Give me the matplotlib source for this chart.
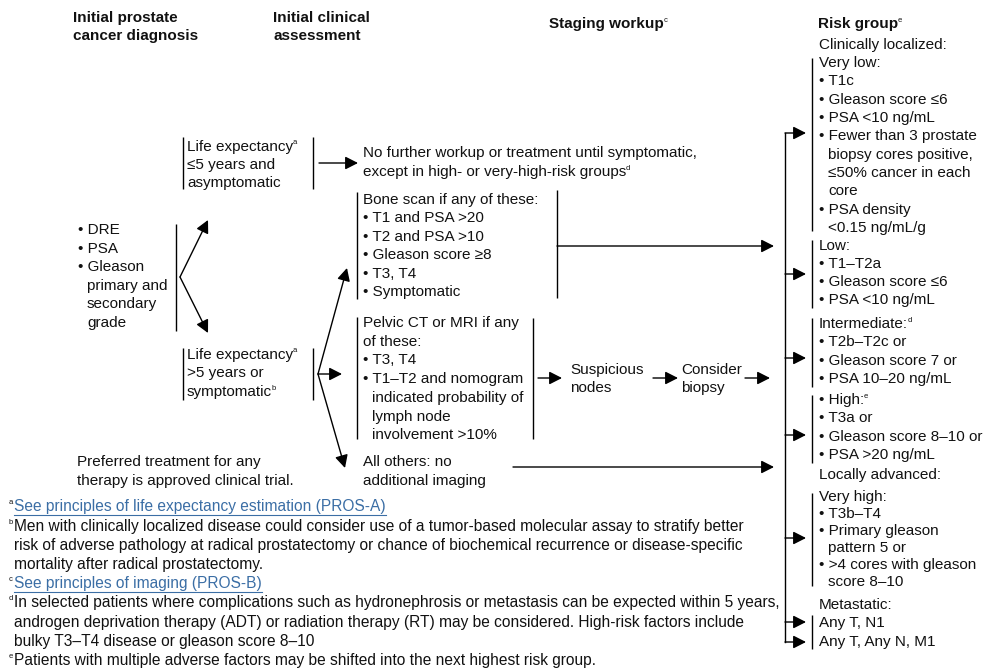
import matplotlib.pyplot as plt
from matplotlib.patches import FancyArrowPatch

FONT = ['Liberation Sans', 'DejaVu Sans']
LINK = '#3b6ea5'

# textos del diagrama
head_dx = ['Initial prostate', 'cancer diagnosis']
head_eval = ['Initial clinical', 'assessment']
head_stage = 'Staging workup'
head_risk = 'Risk group'

diagnosis = ['• DRE', '• PSA', '• Gleason', '  primary and', '  secondary', '  grade']
life_short = ['Life expectancy', '≤5 years and', 'asymptomatic']
life_long = ['Life expectancy', '>5 years or', 'symptomatic']
no_workup = ['No further workup or treatment until symptomatic,',
             'except in high- or very-high-risk groups']
bone_scan = ['Bone scan if any of these:', '• T1 and PSA >20', '• T2 and PSA >10',
             '• Gleason score ≥8', '• T3, T4', '• Symptomatic']
pelvic = ['Pelvic CT or MRI if any', 'of these:', '• T3, T4', '• T1–T2 and nomogram',
          '  indicated probability of', '  lymph node', '  involvement >10%']
all_others = ['All others: no', 'additional imaging']
trial = ['Preferred treatment for any', 'therapy is approved clinical trial.']
nodes = ['Suspicious', 'nodes']
biopsy = ['Consider', 'biopsy']

very_low = ['Very low:', '• T1c', '• Gleason score ≤6', '• PSA <10 ng/mL',
            '• Fewer than 3 prostate', '  biopsy cores positive,', '  ≤50% cancer in each',
            '  core', '• PSA density', '  <0.15 ng/mL/g']
low = ['Low:', '• T1–T2a', '• Gleason score ≤6', '• PSA <10 ng/mL']
intermediate = ['Intermediate:', '• T2b–T2c or', '• Gleason score 7 or', '• PSA 10–20 ng/mL']
high = ['• High:', '• T3a or', '• Gleason score 8–10 or', '• PSA >20 ng/mL']
very_high = ['Very high:', '• T3b–T4', '• Primary gleason', '  pattern 5 or',
             '• >4 cores with gleason', '  score 8–10']
metastatic = ['Metastatic:', 'Any T, N1', 'Any T, Any N, M1']

footnotes = [
    ('a', 'See principles of life expectancy estimation (PROS-A)', True),
    ('b', 'Men with clinically localized disease could consider use of a tumor-based molecular assay to stratify better', False),
    ('', 'risk of adverse pathology at radical prostatectomy or chance of biochemical recurrence or disease-specific', False),
    ('', 'mortality after radical prostatectomy.', False),
    ('c', 'See principles of imaging (PROS-B)', True),
    ('d', 'In selected patients where complications such as hydronephrosis or metastasis can be expected within 5 years,', False),
    ('', 'androgen deprivation therapy (ADT) or radiation therapy (RT) may be considered. High-risk factors include', False),
    ('', 'bulky T3–T4 disease or gleason score 8–10', False),
    ('e', 'Patients with multiple adverse factors may be shifted into the next highest risk group.', False),
]

fig = plt.figure(figsize=(9.89, 6.69), dpi=100)
ax = fig.add_axes([0, 0, 1, 1])
ax.set_xlim(0, 989)
ax.set_ylim(669, 0)
ax.axis('off')
r = fig.canvas.get_renderer()


def right_edge(t):
    bb = t.get_window_extent(renderer=r)
    return ax.transData.inverted().transform((bb.x1, bb.y1))[0]


def txt(x, y, s, sup=None, size=11, weight='normal', color='#111111'):
    if s.startswith('  '):
        x += 9
        s = s.strip()
    t = ax.text(x, y, s, fontsize=size, fontweight=weight, family=FONT,
                color=color, ha='left', va='center')
    if sup:
        ax.text(right_edge(t) - 0.5, y - 4, sup, fontsize=size * 0.5,
                family=FONT, color=color, ha='left', va='center')
    return t


def bloque(x, y0, paso, lineas, sups=None):
    sups = sups or {}
    for i, s in enumerate(lineas):
        txt(x, y0 + i * paso, s, sup=sups.get(i))


def barra(x, y0, y1):
    ax.plot([x, x], [y0, y1], color='k', lw=1.0, solid_capstyle='butt')


def flecha(p0, p1):
    ax.add_patch(FancyArrowPatch(p0, p1, arrowstyle='-|>,head_length=0.55,head_width=0.28',
                                 mutation_scale=14, lw=1.0, color='k',
                                 shrinkA=0, shrinkB=0))


# encabezados
for i, s in enumerate(head_dx):
    txt(73, 18 + i * 18, s, weight='bold')
for i, s in enumerate(head_eval):
    txt(273, 18 + i * 18, s, weight='bold')
txt(549, 24, head_stage, sup='c', weight='bold')
txt(818, 24, head_risk, sup='e', weight='bold')

# diagnóstico inicial
bloque(78, 230, 18.6, diagnosis)
barra(176, 224, 331)
flecha((180, 277), (208, 220))
flecha((180, 277), (208, 333))

# evaluación clínica
barra(183, 137, 189)
bloque(187, 147, 18, life_short, {0: 'a'})
barra(313, 137, 189)
flecha((319, 163), (358, 163))
bloque(363, 153, 19, no_workup, {1: 'd'})

barra(183, 348, 400)
bloque(187, 355, 18.5, life_long, {0: 'a', 2: 'b'})
barra(313, 348, 400)
flecha((318, 374), (347, 268))
flecha((318, 374), (342, 374))
flecha((318, 374), (345, 468))

bloque(77, 462, 19, trial)

# estadificación
barra(357, 192, 299)
bloque(363, 200, 18.4, bone_scan)
barra(557, 190, 298)
flecha((557, 246), (774, 246))

barra(357, 317, 439)
bloque(363, 323, 18.7, pelvic)
barra(533, 318, 439)
flecha((538, 378), (562, 378))
bloque(570, 370, 18, nodes)
flecha((653, 378), (678, 378))
bloque(681, 370, 18, biopsy)
flecha((745, 378), (770, 378))

bloque(363, 462, 19, all_others)
flecha((513, 467), (774, 467))

# grupos de riesgo
ax.plot([806 - 21, 785, 785], [133, 133, 642], color='k', lw=1.0)
for yy in [133, 274, 358, 435, 538, 622, 642]:
    flecha((785, yy), (806, yy))

txt(819, 45, 'Clinically localized:')
barra(812, 58, 231)
bloque(819, 63, 18.35, very_low)
barra(812, 240, 308)
bloque(819, 246, 18, low)
barra(812, 318, 387)
bloque(819, 324, 18.3, intermediate, {0: 'd'})
barra(812, 395, 463)
bloque(819, 400, 18.3, high, {0: 'e'})
txt(819, 475, 'Locally advanced:')
barra(812, 493, 586)
bloque(819, 497, 17.1, very_high)
txt(819, 605, metastatic[0])
barra(812, 615, 649)
bloque(819, 623, 18.8, metastatic[1:])

# notas al pie
for i, (letra, s, enlace) in enumerate(footnotes):
    y = 507 + i * 19.2
    if letra:
        ax.text(9, y - 4, letra, fontsize=5.5, family=FONT, color='#111111',
                ha='left', va='center')
    t = txt(14, y, s, size=11.2, color=LINK if enlace else '#111111')
    if enlace:
        ax.plot([14, right_edge(t)], [y + 8, y + 8], color=LINK, lw=0.8)

fig.savefig('out.png', dpi=100)
